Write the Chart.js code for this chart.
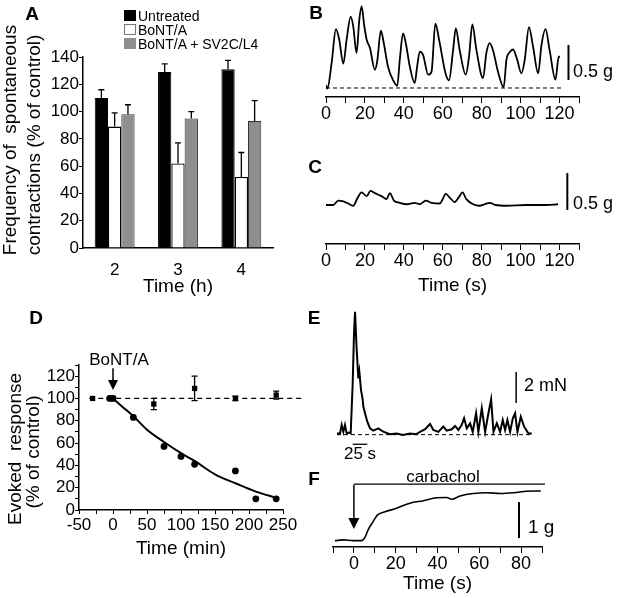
<!DOCTYPE html>
<html>
<head>
<meta charset="utf-8">
<script src="https://cdn.jsdelivr.net/npm/chart.js@4.4.0/dist/chart.umd.min.js"></script>
<style>
body{margin:0;background:#fff;width:618px;height:598px;position:relative;overflow:hidden;font-family:"Liberation Sans",Arial,sans-serif;color:#000}
canvas{position:absolute}
.t{position:absolute;white-space:nowrap;line-height:1;transform:translate(-50%,-50%)}
.l{position:absolute;white-space:nowrap;line-height:1;transform:translate(0,-50%)}
.v{position:absolute;white-space:nowrap;line-height:1;font-size:19px;transform:translate(-50%,-50%) rotate(-90deg)}
.p{font-weight:bold;font-size:19px}
.box{position:absolute;width:12px;height:11px;box-sizing:border-box}
</style>
</head>
<body>
<canvas id="cA" width="294" height="300" style="left:-4px;top:0"></canvas>
<canvas id="cB" width="318" height="150" style="left:300px;top:0"></canvas>
<canvas id="cC" width="318" height="150" style="left:300px;top:150px"></canvas>
<canvas id="cD" width="305" height="275" style="left:0;top:290px"></canvas>
<canvas id="cE" width="318" height="170" style="left:300px;top:290px"></canvas>
<canvas id="cF" width="318" height="148" style="left:300px;top:450px"></canvas>

<div class="t p" style="left:32px;top:13px">A</div>
<div class="t p" style="left:316px;top:12px">B</div>
<div class="t p" style="left:315px;top:166px">C</div>
<div class="t p" style="left:36px;top:317px">D</div>
<div class="t p" style="left:314px;top:317px">E</div>
<div class="t p" style="left:314px;top:478px">F</div>

<div class="v" style="left:8.5px;top:140px">Frequency of&nbsp; spontaneous</div>
<div class="v" style="left:32.5px;top:144.5px">contractions (% of control)</div>
<div class="v" style="left:14px;top:449px">Evoked&nbsp; response</div>
<div class="v" style="left:32px;top:452px">(% of control)</div>

<div class="box" style="left:124px;top:10px;background:#000"></div>
<div class="box" style="left:124px;top:24px;background:#fff;border:1px solid #777"></div>
<div class="box" style="left:124px;top:38px;background:#8e8e8e"></div>
<div class="l" style="left:138px;top:16px;font-size:14px">Untreated</div>
<div class="l" style="left:138px;top:30px;font-size:14px">BoNT/A</div>
<div class="l" style="left:138px;top:44px;font-size:14px">BoNT/A + SV2C/L4</div>

<div class="l" style="left:573px;top:71px;font-size:18px">0.5 g</div>
<div class="l" style="left:573px;top:203px;font-size:18px">0.5 g</div>
<div class="t" style="left:119px;top:359px;font-size:17px">BoNT/A</div>
<div class="l" style="left:524px;top:385px;font-size:18px">2 mN</div>
<div class="t" style="left:360px;top:453px;font-size:17px">25 s</div>
<div class="t" style="left:443px;top:476px;font-size:17px">carbachol</div>
<div class="l" style="left:528px;top:526px;font-size:19px">1 g</div>

<script>
// panel A: frequency of spontaneous contractions (% of control)
const timeH = ['2', '3', '4'];
const untreated = [110, 129, 131];
const untreatedErr = [6, 6, 6.5];
const bont = [89, 62, 52];
const bontErr = [10, 15, 18];
const sv2c = [98, 95, 93];
const sv2cErr = [7, 5, 15];

// panel B: untreated trace (s, g)
const traceBTime = [0, 0.7, 2.9, 5.1, 6.8, 8.9, 10.6, 12.7, 14, 15.7, 17.1, 18.3, 19.6, 20.9, 22.6, 25.1, 26.3, 28.2, 29.7, 31.9, 34.5, 36.6, 37.9, 39.6, 41, 43.1, 45.6, 46.8, 48.2, 49.9, 52.5, 54.2, 56.2, 58.3, 61.5, 63.2, 65.3, 66.7, 68.7, 71.8, 73.5, 75.2, 77.3, 80.7, 82.4, 84.1, 85.8, 88.4, 91.3, 92.7, 94.7, 96.1, 98.1, 100.4, 102.1, 104.3, 106.4, 109, 110.7, 112.8, 114.9, 117.9, 119.6, 120];
const traceBForce = [0.04, -0.01, 0.36, 0.84, 0.69, 0.35, 0.69, 1.02, 0.88, 0.5, 0.97, 1.17, 0.9, 0.69, 0.57, 0.26, 0.38, 0.82, 0.64, 0.3, 0.11, 0.03, 0.4, 0.78, 0.64, 0.3, 0.07, 0.3, 0.52, 0.47, 0.19, 0.23, 0.92, 0.66, 0.2, 0.11, 0.54, 0.85, 0.54, 0.19, 0.45, 0.91, 0.54, 0.14, 0.5, 0.64, 0.54, 0.23, 0.01, 0.4, 0.52, 0.55, 0.42, 0.21, 0.4, 0.87, 0.59, 0.21, 0.61, 0.84, 0.54, 0.12, 0.45, 0.43];
const baseBTime = [0, 121];
const baseBForce = [0, 0];

// panel C: BoNT/A trace (s, g)
const traceCTime = [0, 3.7, 6.3, 8.9, 11.4, 14, 16.1, 18.3, 20.9, 22.9, 25.1, 28.5, 31.1, 32.8, 34.9, 37.9, 41.4, 45.6, 48.2, 51.3, 54.2, 58.5, 59.8, 61.5, 63.9, 66.1, 68.4, 70.1, 72.1, 75.6, 79, 81.5, 84.1, 87.2, 92.7, 102.9, 113.2, 119.2];
const traceCForce = [0, 0, 0.06, 0.05, 0.02, -0.01, 0.09, 0.17, 0.12, 0.19, 0.16, 0.12, 0.08, 0.16, 0.06, 0.03, 0.01, 0.03, 0.01, 0.06, 0.03, 0.02, 0.07, 0.15, 0.09, 0.04, 0.11, 0.17, 0.08, 0.01, -0.01, 0.01, 0.03, 0, -0.01, 0, 0, 0.01];

// panel D: evoked response (% of control) vs time (min)
const bontTime = [-5, 0, 30, 75, 100, 120, 180, 210, 240];
const bontResp = [100, 100, 83, 57, 48, 41, 35, 10, 10];
const ctrlTime = [-30, 0, 60, 120, 180, 240];
const ctrlResp = [100, 100, 95, 109, 100, 103];
const ctrlErr = [0, 0, 5, 11, 2, 3.5];
const fitTime = [0, 15, 30, 50, 75, 100, 120, 150, 180, 210, 240];
const fitResp = [100, 92, 84, 72, 61, 51, 44, 32, 24, 16.5, 11];
const refTime = [-35, 280];
const refResp = [100, 100];

// panel E: evoked trace (s, mN)
const traceETime = [0, 5.1, 8, 10.8, 13.6, 16.5, 20, 23.3, 26.7, 29, 30.7, 33.5, 36.3, 38, 40.9, 43.8, 44.8, 47.7, 51.6, 56.2, 61.8, 70.4, 78.9, 90, 101.6, 112, 124.4, 135, 141.4, 150, 158.4, 164, 172.6, 181, 186.9, 195.4, 201, 206.7, 212.4, 216.4, 220.9, 226.6, 231.1, 236.8, 240.7, 246.5, 252.2, 257.8, 262.4, 266.4, 272.1, 277.7, 282.2, 286.2, 290.1, 294.7, 299.3, 303.2, 307.2, 312.9, 318.6, 325.9, 331.6];
const traceEForce = [0.1, 0.1, 0.65, 0.2, 0.65, 0.1, 0.15, 0.1, 3.3, 6.6, 7.95, 5.5, 3.65, 4.1, 2.9, 2.26, 1.83, 1.4, 0.86, 0.43, 0.28, 0.43, 0.21, 0.05, 0.1, 0, 0.1, 0.05, 0.2, 0.37, 0.71, 0.32, 0.2, 0.54, 0.28, 0.37, 0.58, 0.32, 0.65, 1.08, 0.43, 0.75, 0.2, 1.4, 0.2, 1.72, 0.2, 1.4, 2.3, 0.2, 0.75, 0.2, 0.97, 0.32, 0.97, 0.2, 1.08, 1.4, 0.2, 1.18, 0.54, 0.1, 0.1];
const baseETime = [0, 332];
const baseEForce = [0.02, 0.02];

// panel F: carbachol trace (s, g)
const traceFTime = [-9.1, -5.1, -0.3, 3.7, 5.3, 6.8, 9.2, 11.2, 14.9, 20.4, 26.8, 33.2, 39.6, 44.4, 46.8, 50.8, 57.2, 63.6, 70, 76.4, 82.7, 89.4];
const traceFForce = [0.01, 0.03, 0.01, 0.01, 0.1, 0.31, 0.54, 0.72, 0.81, 0.91, 1.05, 1.12, 1.2, 1.21, 1.16, 1.25, 1.32, 1.34, 1.32, 1.34, 1.38, 1.39];

Chart.defaults.font.family = '"Liberation Sans", Arial, sans-serif';
Chart.defaults.color = '#000';
Chart.defaults.animation = false;
Chart.defaults.responsive = false;
Chart.defaults.devicePixelRatio = 1;
Chart.defaults.plugins.legend.display = false;
Chart.defaults.plugins.tooltip.enabled = false;

const pts = (xs, ys) => xs.map((x, i) => ({x: x, y: ys[i]}));

// error bars, scale bars, arrows
const marks = {
  id: 'marks',
  afterDatasetsDraw(chart, args, opts) {
    const ctx = chart.ctx, sx = chart.scales.x, sy = chart.scales.y;
    const X = v => sx.getPixelForValue(v), Y = v => sy.getPixelForValue(v);
    ctx.save();
    ctx.strokeStyle = '#000';
    ctx.fillStyle = '#000';
    chart.data.datasets.forEach((ds, i) => {
      if (!ds.errors) return;
      chart.getDatasetMeta(i).data.forEach((el, j) => {
        const e = ds.errors[j];
        if (!e) return;
        const raw = ds.data[j];
        const v = typeof raw === 'number' ? raw : raw.y;
        const top = Y(v + e);
        const bot = ds.errorBelow ? Y(v - e) : el.y;
        const c = 3;
        ctx.lineWidth = 1.3;
        ctx.beginPath();
        ctx.moveTo(el.x, bot); ctx.lineTo(el.x, top);
        ctx.moveTo(el.x - c, top); ctx.lineTo(el.x + c, top);
        if (ds.errorBelow) { ctx.moveTo(el.x - c, bot); ctx.lineTo(el.x + c, bot); }
        ctx.stroke();
      });
    });
    (opts.lines || []).forEach(l => {
      ctx.lineWidth = l.w || 1.5;
      ctx.beginPath();
      ctx.moveTo(X(l.x1), Y(l.y1));
      ctx.lineTo(X(l.x2), Y(l.y2));
      ctx.stroke();
    });
    (opts.arrows || []).forEach(a => {
      const x = X(a.x), y1 = Y(a.from), y2 = Y(a.to);
      ctx.lineWidth = 1.5;
      ctx.beginPath(); ctx.moveTo(x, y1); ctx.lineTo(x, y2 - a.head); ctx.stroke();
      ctx.beginPath();
      ctx.moveTo(x - a.half, y2 - a.head); ctx.lineTo(x + a.half, y2 - a.head); ctx.lineTo(x, y2);
      ctx.closePath(); ctx.fill();
    });
    ctx.restore();
  }
};

const axisLine = {color: '#000', width: 1.5};
const tickGrid = len => ({display: true, drawOnChartArea: false, drawTicks: true, tickLength: len, color: '#000', lineWidth: 1});
const every = (step, max) => v => (v % step === 0 && v <= max) ? v : '';
const hidden = (min, max) => ({type: 'linear', display: false, min: min, max: max});
const trace = (xs, ys, w, smooth) => ({data: pts(xs, ys), borderColor: '#000', borderWidth: w, pointRadius: 0, fill: false,
  tension: smooth ? 0.4 : 0, cubicInterpolationMode: smooth ? 'monotone' : 'default'});
const dashed = (xs, ys) => ({data: pts(xs, ys), borderColor: '#000', borderWidth: 1, borderDash: [4, 3], pointRadius: 0, fill: false});

// A
new Chart(document.getElementById('cA'), {
  type: 'bar',
  data: {
    labels: timeH,
    datasets: [
      {label: 'Untreated', data: untreated, errors: untreatedErr, backgroundColor: '#000', borderColor: '#000', borderWidth: 1},
      {label: 'BoNT/A', data: bont, errors: bontErr, backgroundColor: '#fff', borderColor: '#000', borderWidth: 1.3},
      {label: 'BoNT/A + SV2C/L4', data: sv2c, errors: sv2cErr, backgroundColor: '#8e8e8e', borderColor: '#333', borderWidth: 1}
    ]
  },
  options: {
    layout: {padding: {top: 57, right: 17, left: 0, bottom: 0}},
    datasets: {bar: {categoryPercentage: 0.63, barPercentage: 1}},
    scales: {
      x: {
        grid: {display: false, drawTicks: false},
        border: axisLine,
        ticks: {font: {size: 17}, padding: 12},
        title: {display: true, text: 'Time (h)', font: {size: 19}, padding: {top: 0, bottom: 2}},
        afterFit: s => { s.height = 52; }
      },
      y: {
        min: 0, max: 140,
        grid: tickGrid(4),
        border: axisLine,
        ticks: {stepSize: 20, font: {size: 17}, padding: 0},
        afterFit: s => { s.width = 87; }
      }
    }
  },
  plugins: [marks]
});

// B
new Chart(document.getElementById('cB'), {
  type: 'line',
  data: {datasets: [dashed(baseBTime, baseBForce), trace(traceBTime, traceBForce, 1.8, true)]},
  options: {
    layout: {padding: {top: 2, right: 39, left: 26, bottom: 0}},
    scales: {
      x: {
        type: 'linear', min: 0, max: 130,
        grid: tickGrid(6), border: axisLine,
        ticks: {stepSize: 10, autoSkip: false, maxRotation: 0, font: {size: 18}, padding: 0, callback: every(20, 120)},
        afterFit: s => { s.height = 53; }
      },
      y: hidden(-0.1286, 1.2286)
    },
    plugins: {marks: {lines: [{x1: 124.6, y1: 0.114, x2: 124.6, y2: 0.614, w: 2}]}}
  },
  plugins: [marks]
});

// C
new Chart(document.getElementById('cC'), {
  type: 'line',
  data: {datasets: [trace(traceCTime, traceCForce, 1.8, true)]},
  options: {
    layout: {padding: {top: 10, right: 39, left: 26, bottom: 0}},
    scales: {
      x: {
        type: 'linear', min: 0, max: 130,
        grid: tickGrid(6), border: axisLine,
        ticks: {stepSize: 10, autoSkip: false, maxRotation: 0, font: {size: 18}, padding: 0, callback: every(20, 120)},
        title: {display: true, text: 'Time (s)', font: {size: 19}, padding: {top: 0, bottom: 3}},
        afterFit: s => { s.height = 56; }
      },
      y: hidden(-0.527, 0.608)
    },
    plugins: {marks: {lines: [{x1: 124, y1: -0.068, x2: 124, y2: 0.432, w: 2}]}}
  },
  plugins: [marks]
});

// D
new Chart(document.getElementById('cD'), {
  type: 'scatter',
  data: {
    datasets: [
      Object.assign(dashed(refTime, refResp), {showLine: true, clip: false, borderWidth: 1.3, borderDash: [5, 4]}),
      {data: pts(fitTime, fitResp), showLine: true, borderColor: '#000', borderWidth: 2, pointRadius: 0, tension: 0.4, cubicInterpolationMode: 'monotone'},
      {data: pts(ctrlTime, ctrlResp), errors: ctrlErr, errorBelow: true, pointStyle: 'rect', pointRadius: 3.75, backgroundColor: '#000', borderColor: '#000', borderWidth: 0},
      {data: pts(bontTime, bontResp), pointStyle: 'circle', pointRadius: 3.4, backgroundColor: '#000', borderColor: '#000', borderWidth: 0}
    ]
  },
  options: {
    layout: {padding: {top: 75, right: 22, left: 0, bottom: 0}},
    scales: {
      x: {
        type: 'linear', min: -50, max: 250,
        grid: tickGrid(4), border: axisLine,
        ticks: {stepSize: 25, autoSkip: false, maxRotation: 0, font: {size: 17}, padding: 1, callback: every(50, 250)},
        title: {display: true, text: 'Time (min)', font: {size: 19}, padding: {top: 0, bottom: 5}},
        afterFit: s => { s.height = 55; }
      },
      y: {
        min: 0, max: 130,
        grid: tickGrid(4), border: axisLine,
        ticks: {stepSize: 10, autoSkip: false, font: {size: 17}, padding: 0, callback: every(20, 120)},
        afterFit: s => { s.width = 79; }
      }
    },
    plugins: {marks: {arrows: [{x: 0, from: 127, to: 107.5, head: 10, half: 5}]}}
  },
  plugins: [marks]
});

// E
new Chart(document.getElementById('cE'), {
  type: 'line',
  data: {datasets: [dashed(baseETime, baseEForce), trace(traceETime, traceEForce, 2, false)]},
  options: {
    layout: {padding: {top: 10, right: 86, left: 37, bottom: 10}},
    scales: {x: hidden(0, 332), y: hidden(-0.97, 8.71)},
    plugins: {marks: {lines: [
      {x1: 305, y1: 2.06, x2: 305, y2: 4.06, w: 1.5},
      {x1: 26.7, y1: -0.6, x2: 51.7, y2: -0.6, w: 1.3}
    ]}}
  },
  plugins: [marks]
});

// F
new Chart(document.getElementById('cF'), {
  type: 'line',
  data: {datasets: [trace(traceFTime, traceFForce, 1.6, true)]},
  options: {
    layout: {padding: {top: 20, right: 76, left: 33, bottom: 0}},
    scales: {
      x: {
        type: 'linear', min: -10, max: 90,
        grid: tickGrid(6), border: axisLine,
        ticks: {stepSize: 10, autoSkip: false, maxRotation: 0, font: {size: 18}, padding: 0, callback: v => (v % 20 === 0 && v >= 0) ? v : ''},
        title: {display: true, text: 'Time (s)', font: {size: 19}, padding: {top: 0, bottom: 3}},
        afterFit: s => { s.height = 51; }
      },
      y: hidden(-0.1667, 1.972)
    },
    plugins: {marks: {
      lines: [
        {x1: 0, y1: 1.58, x2: 91.4, y2: 1.58, w: 1.3},
        {x1: 79, y1: 0.08, x2: 79, y2: 1.08, w: 2}
      ],
      arrows: [{x: 0, from: 1.56, to: 0.333, head: 11, half: 5.5}]
    }}
  },
  plugins: [marks]
});
</script>
</body>
</html>
